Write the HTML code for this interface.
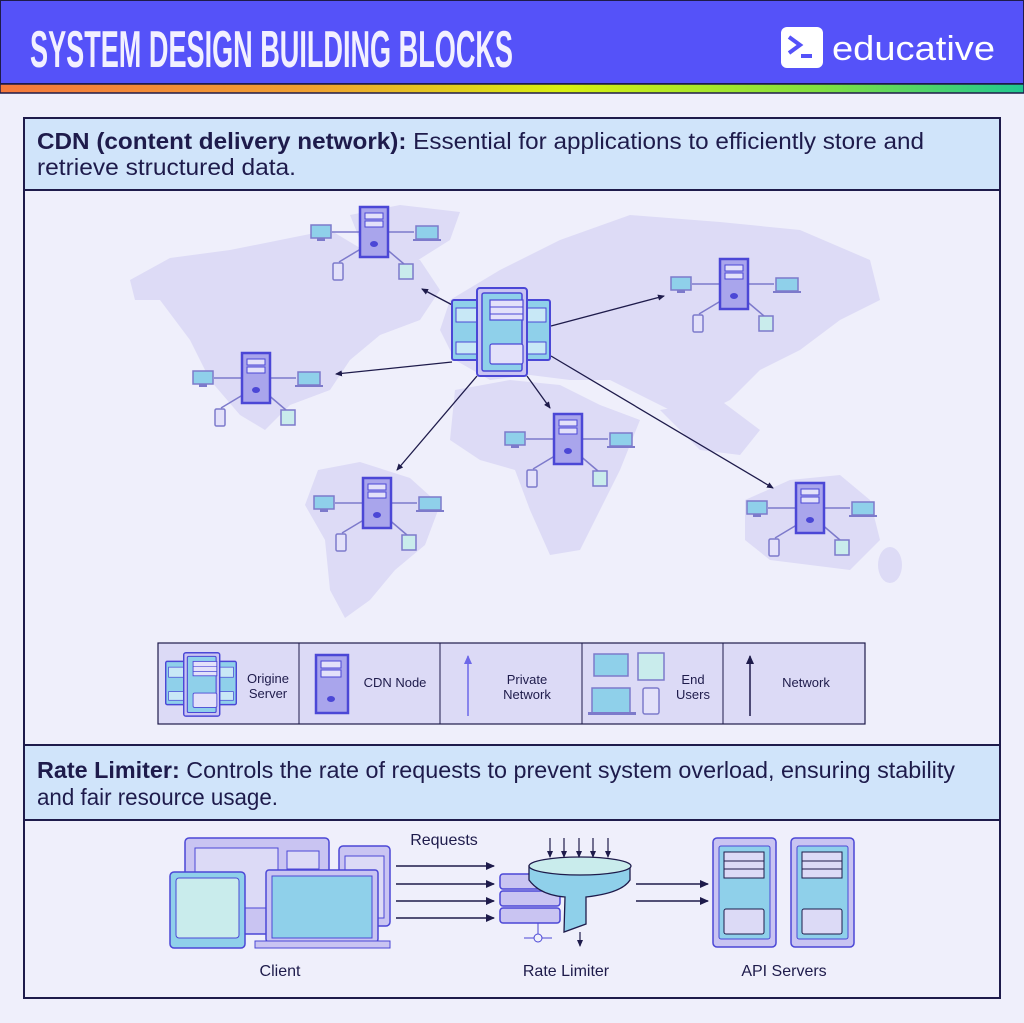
<!DOCTYPE html>
<html><head><meta charset="utf-8"><style>
html,body{margin:0;padding:0;background:#efeffb}
svg{display:block}
text{font-family:"Liberation Sans",sans-serif}
</style></head><body>
<svg width="1024" height="1023" viewBox="0 0 1024 1023" xmlns="http://www.w3.org/2000/svg">
<defs>
<linearGradient id="rb" x1="0" x2="1"><stop offset="0" stop-color="#f5783c"/><stop offset="0.3" stop-color="#f0a030"/><stop offset="0.55" stop-color="#d8f010"/><stop offset="0.8" stop-color="#80e040"/><stop offset="1" stop-color="#20c890"/></linearGradient>
<marker id="ah" markerWidth="8" markerHeight="8" refX="6" refY="4" orient="auto" markerUnits="userSpaceOnUse"><path d="M0,1 L7,4 L0,7Z" fill="#1e1b4b"/></marker>
<marker id="ah2" markerWidth="10" markerHeight="10" refX="8" refY="5" orient="auto" markerUnits="userSpaceOnUse"><path d="M0,1 L9,5 L0,9Z" fill="#1e1b4b"/></marker>
<marker id="ahp" markerWidth="10" markerHeight="10" refX="8" refY="5" orient="auto" markerUnits="userSpaceOnUse"><path d="M0,1 L9,5 L0,9Z" fill="#6d68e8"/></marker>
<g id="node">
 <line x1="-42" y1="0" x2="40" y2="0" stroke="#7d7acb" stroke-width="1.5"/>
 <line x1="-10" y1="15" x2="-35" y2="30" stroke="#7d7acb" stroke-width="1.5"/>
 <line x1="10" y1="15" x2="30" y2="32" stroke="#7d7acb" stroke-width="1.5"/>
 <rect x="-14" y="-25" width="28" height="50" fill="#a9a5ec" stroke="#4b47d6" stroke-width="2.5"/>
 <rect x="-9" y="-19" width="18" height="6" fill="#e3e1fa" stroke="#4b47d6" stroke-width="1"/>
 <rect x="-9" y="-11" width="18" height="6" fill="#e3e1fa" stroke="#4b47d6" stroke-width="1"/>
 <ellipse cx="0" cy="12" rx="4" ry="3" fill="#4b47d6"/>
 <rect x="-63" y="-7" width="20" height="13" fill="#8fd0ea" stroke="#7d7acb" stroke-width="1.5"/>
 <rect x="-57" y="6" width="8" height="3" fill="#7d7acb"/>
 <rect x="42" y="-6" width="22" height="13" fill="#8fd0ea" stroke="#7d7acb" stroke-width="1.5"/>
 <rect x="39" y="7" width="28" height="2" fill="#7d7acb"/>
 <rect x="-41" y="31" width="10" height="17" rx="1.5" fill="#e3e1fa" stroke="#7d7acb" stroke-width="1.5"/>
 <rect x="25" y="32" width="14" height="15" fill="#c9ecec" stroke="#7d7acb" stroke-width="1.5"/>
</g>
<g id="origin">
 <rect x="-49" y="-30" width="32" height="60" rx="2" fill="#8fd0ea" stroke="#4b47d6" stroke-width="2"/>
 <rect x="17" y="-30" width="32" height="60" rx="2" fill="#8fd0ea" stroke="#4b47d6" stroke-width="2"/>
 <rect x="-45" y="-22" width="24" height="14" fill="#c8e8f6" stroke="#4b47d6" stroke-width="1"/>
 <rect x="21" y="-22" width="24" height="14" fill="#c8e8f6" stroke="#4b47d6" stroke-width="1"/>
 <rect x="-45" y="12" width="24" height="12" fill="#c8e8f6" stroke="#4b47d6" stroke-width="1"/>
 <rect x="21" y="12" width="24" height="12" fill="#c8e8f6" stroke="#4b47d6" stroke-width="1"/>
 <rect x="-24" y="-42" width="50" height="88" rx="3" fill="#c9c4f2" stroke="#4b47d6" stroke-width="2"/>
 <rect x="-19" y="-37" width="40" height="78" rx="2" fill="#8fd0ea" stroke="#4b47d6" stroke-width="1.5"/>
 <rect x="-11" y="-30" width="33" height="20" fill="#e3e1fa" stroke="#4b47d6" stroke-width="1.2"/>
 <line x1="-11" y1="-23" x2="22" y2="-23" stroke="#4b47d6"/><line x1="-11" y1="-16" x2="22" y2="-16" stroke="#4b47d6"/>
 <rect x="-11" y="14" width="33" height="20" rx="2" fill="#e3e1fa" stroke="#4b47d6" stroke-width="1.2"/>
</g>
</defs>
<rect width="1024" height="1023" fill="#efeffb"/>
<!-- header -->
<rect x="0" y="0" width="1024" height="84" fill="#5552f9" stroke="#1e1b4b" stroke-width="2"/>
<rect x="0" y="84" width="1024" height="9" fill="url(#rb)" stroke="#1e1b4b" stroke-width="1.5"/>
<text x="30" y="67" fill="#f2f0ff" font-size="52" font-weight="bold" textLength="483" lengthAdjust="spacingAndGlyphs" font-family="Liberation Sans Narrow, Liberation Sans, sans-serif">SYSTEM DESIGN BUILDING BLOCKS</text>
<rect x="781" y="27" width="42" height="41" rx="6" fill="#fff"/>
<path d="M789,37 L800,45 L789,53" fill="none" stroke="#5552f9" stroke-width="4"/>
<rect x="801" y="54" width="11" height="4" fill="#5552f9"/>
<text x="832" y="60" fill="#fff" font-size="34" textLength="163" lengthAdjust="spacingAndGlyphs">educative</text>
<!-- main frame -->
<rect x="24" y="118" width="976" height="880" fill="#efeffb" stroke="#1e1b4b" stroke-width="2"/>
<rect x="24" y="118" width="976" height="72" fill="#d0e4fa" stroke="#1e1b4b" stroke-width="2"/>
<text x="37" y="149" fill="#1e1b4b" font-size="23" textLength="887" lengthAdjust="spacingAndGlyphs"><tspan font-weight="bold">CDN (content delivery network):</tspan> Essential for applications to efficiently store and</text>
<text x="37" y="175" fill="#1e1b4b" font-size="23" textLength="259" lengthAdjust="spacingAndGlyphs">retrieve structured data.</text>
<!-- map -->
<g fill="#dddbf6">
<path d="M130,280 L170,258 L230,250 L290,238 L330,230 L360,248 L420,260 L440,290 L420,320 L380,335 L350,360 L330,390 L290,405 L265,430 L240,415 L210,380 L190,340 L160,300 L135,300Z"/>
<path d="M350,215 L400,205 L460,212 L450,240 L415,262 L385,258 L360,240Z"/>
<path d="M318,470 L360,462 L410,478 L440,505 L425,545 L395,570 L370,600 L345,618 L330,590 L325,540 L305,505Z"/>
<path d="M450,300 L500,270 L560,240 L630,215 L720,222 L800,230 L870,260 L880,300 L840,320 L800,350 L760,370 L730,400 L690,420 L650,400 L610,380 L570,380 L530,375 L490,380 L455,360 L440,330Z"/>
<path d="M455,390 L510,380 L560,385 L600,405 L640,420 L620,470 L600,510 L580,550 L550,555 L530,510 L515,470 L480,460 L450,440Z"/>
<path d="M745,500 L790,480 L840,475 L870,500 L880,540 L850,570 L810,565 L770,560 L745,540Z"/>
<path d="M660,410 L720,400 L760,430 L740,455 L700,450Z"/>
<ellipse cx="890" cy="565" rx="12" ry="18"/>
</g>
<!-- arrows -->
<g stroke="#1e1b4b" stroke-width="1.3" marker-end="url(#ah)">
<line x1="458" y1="308" x2="422" y2="289"/>
<line x1="551" y1="326" x2="664" y2="296"/>
<line x1="452" y1="362" x2="336" y2="374"/>
<line x1="527" y1="376" x2="550" y2="408"/>
<line x1="477" y1="376" x2="397" y2="470"/>
<line x1="551" y1="356" x2="773" y2="488"/>
</g>
<use href="#origin" x="501" y="330"/>
<use href="#node" x="374" y="232"/>
<use href="#node" x="734" y="284"/>
<use href="#node" x="256" y="378"/>
<use href="#node" x="568" y="439"/>
<use href="#node" x="377" y="503"/>
<use href="#node" x="810" y="508"/>
<!-- legend -->
<rect x="158" y="643" width="707" height="81" fill="#dcdaf6" stroke="#1e1b4b" stroke-width="1.2"/>
<g stroke="#1e1b4b" stroke-width="1"><line x1="299" y1="643" x2="299" y2="724"/><line x1="440" y1="643" x2="440" y2="724"/><line x1="582" y1="643" x2="582" y2="724"/><line x1="723" y1="643" x2="723" y2="724"/></g>
<g transform="translate(201,683) scale(0.72)"><use href="#origin"/></g>
<g font-size="13" fill="#1e1b4b" text-anchor="middle">
<text x="268" y="683">Origine</text><text x="268" y="698">Server</text>
<text x="395" y="687">CDN Node</text>
<text x="527" y="684">Private</text><text x="527" y="699">Network</text>
<text x="693" y="684">End</text><text x="693" y="699">Users</text>
<text x="806" y="687">Network</text>
</g>
<rect x="316" y="655" width="32" height="58" fill="#a9a5ec" stroke="#4b47d6" stroke-width="2.5"/>
<rect x="321" y="661" width="20" height="7" fill="#e3e1fa" stroke="#4b47d6"/>
<rect x="321" y="670" width="20" height="7" fill="#e3e1fa" stroke="#4b47d6"/>
<ellipse cx="331" cy="699" rx="4" ry="3" fill="#4b47d6"/>
<line x1="468" y1="716" x2="468" y2="656" stroke="#6d68e8" stroke-width="1.5" marker-end="url(#ahp)"/>
<line x1="750" y1="716" x2="750" y2="656" stroke="#1e1b4b" stroke-width="1.5" marker-end="url(#ah2)"/>
<rect x="594" y="654" width="34" height="22" fill="#8fd0ea" stroke="#7d7acb" stroke-width="1.5"/>
<rect x="638" y="653" width="26" height="27" fill="#c9ecec" stroke="#7d7acb" stroke-width="1.5"/>
<rect x="592" y="688" width="38" height="25" fill="#8fd0ea" stroke="#7d7acb" stroke-width="1.5"/>
<rect x="588" y="712" width="48" height="3" fill="#7d7acb"/>
<rect x="643" y="688" width="16" height="26" rx="2" fill="#e3e1fa" stroke="#7d7acb" stroke-width="1.5"/>
<!-- rate limiter -->
<rect x="24" y="745" width="976" height="75" fill="#d0e4fa" stroke="#1e1b4b" stroke-width="2"/>
<text x="37" y="778" fill="#1e1b4b" font-size="23" textLength="918" lengthAdjust="spacingAndGlyphs"><tspan font-weight="bold">Rate Limiter:</tspan> Controls the rate of requests to prevent system overload, ensuring stability</text>
<text x="37" y="805" fill="#1e1b4b" font-size="23" textLength="241" lengthAdjust="spacingAndGlyphs">and fair resource usage.</text>
<!-- clients -->
<rect x="185" y="838" width="144" height="96" rx="4" fill="#c9c4f2" stroke="#4b47d6" stroke-width="1.5"/>
<rect x="195" y="848" width="83" height="60" fill="#dcdaf6" stroke="#4b47d6"/>
<rect x="287" y="851" width="32" height="18" fill="#dcdaf6" stroke="#4b47d6"/>
<rect x="339" y="846" width="51" height="80" rx="4" fill="#c9c4f2" stroke="#4b47d6" stroke-width="1.5"/>
<rect x="345" y="856" width="39" height="62" fill="#dcdaf6" stroke="#4b47d6"/>
<rect x="170" y="872" width="75" height="76" rx="4" fill="#8fd0ea" stroke="#4b47d6" stroke-width="1.5"/>
<rect x="176" y="878" width="63" height="60" rx="3" fill="#c9ecec" stroke="#4b47d6"/>
<rect x="266" y="870" width="112" height="72" rx="3" fill="#c9c4f2" stroke="#4b47d6" stroke-width="1.5"/>
<rect x="272" y="876" width="100" height="62" fill="#8fd0ea" stroke="#4b47d6"/>
<rect x="255" y="941" width="135" height="7" fill="#c9c4f2" stroke="#4b47d6"/>
<g stroke="#1e1b4b" stroke-width="1.5" marker-end="url(#ah2)">
<line x1="396" y1="866" x2="494" y2="866"/><line x1="396" y1="884" x2="494" y2="884"/>
<line x1="396" y1="901" x2="494" y2="901"/><line x1="396" y1="918" x2="494" y2="918"/>
<line x1="636" y1="884" x2="708" y2="884"/><line x1="636" y1="901" x2="708" y2="901"/>
</g>
<text x="444" y="845" font-size="16" fill="#1e1b4b" text-anchor="middle">Requests</text>
<g fill="#c9c4f2" stroke="#4b47d6" stroke-width="1.5">
<rect x="500" y="874" width="60" height="15" rx="3"/><rect x="500" y="891" width="60" height="15" rx="3"/><rect x="500" y="908" width="60" height="15" rx="3"/>
</g>
<line x1="538" y1="923" x2="538" y2="936" stroke="#4b47d6"/><line x1="524" y1="938" x2="552" y2="938" stroke="#4b47d6"/><circle cx="538" cy="938" r="4" fill="#efeffb" stroke="#4b47d6"/>
<path d="M529,866 L529,880 Q540,895 565,897 L564,932 L586,924 L586,897 Q622,893 630,880 L630,866Z" fill="#8fd0ea" stroke="#1e1b4b" stroke-width="1.3"/>
<ellipse cx="580" cy="866" rx="51" ry="9" fill="#c9ecec" stroke="#1e1b4b" stroke-width="1.3"/>
<g stroke="#1e1b4b" stroke-width="1.2" marker-end="url(#ah)">
<line x1="550" y1="838" x2="550" y2="857"/><line x1="564" y1="838" x2="564" y2="857"/><line x1="579" y1="838" x2="579" y2="857"/><line x1="593" y1="838" x2="593" y2="857"/><line x1="608" y1="838" x2="608" y2="857"/>
<line x1="580" y1="932" x2="580" y2="946"/>
</g>
<g>
<rect x="713" y="838" width="63" height="109" rx="4" fill="#c9c4f2" stroke="#4b47d6" stroke-width="1.5"/>
<rect x="719" y="846" width="51" height="93" rx="2" fill="#8fd0ea" stroke="#4b47d6"/>
<rect x="724" y="852" width="40" height="26" fill="#dcdaf6" stroke="#1e1b4b"/><line x1="724" y1="861" x2="764" y2="861" stroke="#1e1b4b"/><line x1="724" y1="869" x2="764" y2="869" stroke="#1e1b4b"/>
<rect x="724" y="909" width="40" height="25" rx="2" fill="#dcdaf6" stroke="#1e1b4b"/>
<rect x="791" y="838" width="63" height="109" rx="4" fill="#c9c4f2" stroke="#4b47d6" stroke-width="1.5"/>
<rect x="797" y="846" width="51" height="93" rx="2" fill="#8fd0ea" stroke="#4b47d6"/>
<rect x="802" y="852" width="40" height="26" fill="#dcdaf6" stroke="#1e1b4b"/><line x1="802" y1="861" x2="842" y2="861" stroke="#1e1b4b"/><line x1="802" y1="869" x2="842" y2="869" stroke="#1e1b4b"/>
<rect x="802" y="909" width="40" height="25" rx="2" fill="#dcdaf6" stroke="#1e1b4b"/>
</g>
<g font-size="16" fill="#1e1b4b" text-anchor="middle">
<text x="280" y="976">Client</text><text x="566" y="976">Rate Limiter</text><text x="784" y="976">API Servers</text>
</g>
</svg>
</body></html>
